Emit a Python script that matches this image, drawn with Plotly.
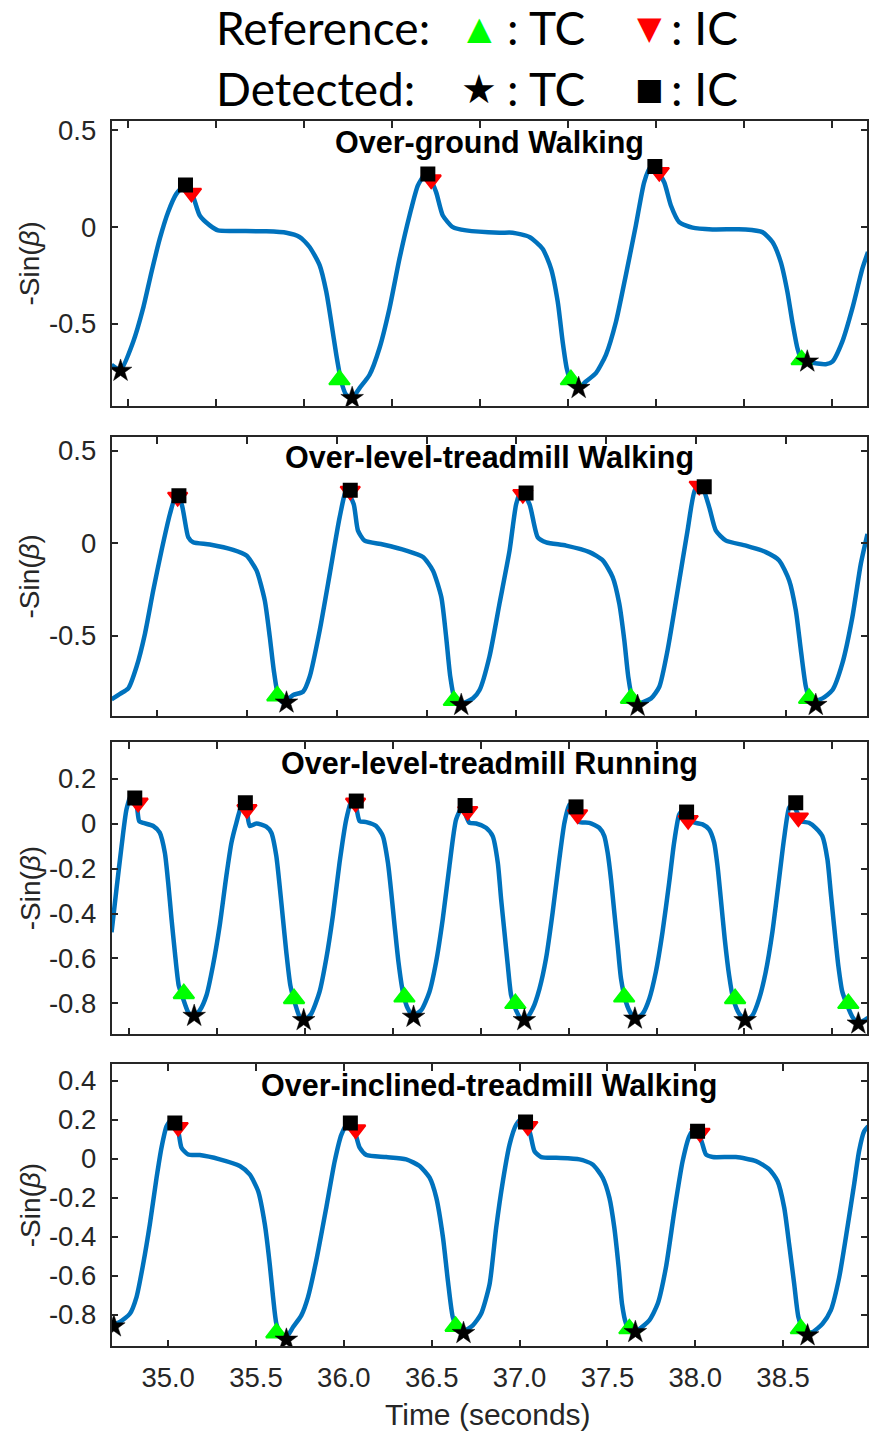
import plotly.graph_objects as go

# ---------------- data (time in s, value of -sin(beta)) ----------------
ground_curve = [
    (34.906, -0.713), (34.957, -0.739), (35.029, -0.593), (35.085, -0.421), (35.133, -0.232),
    (35.180, -0.060), (35.227, 0.077), (35.274, 0.172), (35.322, 0.215), (35.360, 0.181),
    (35.407, 0.060), (35.464, 0.009), (35.511, -0.017), (35.596, -0.020), (35.785, -0.022),
    (35.899, -0.029), (35.974, -0.051), (36.031, -0.103), (36.088, -0.197), (36.126, -0.335),
    (36.154, -0.490), (36.183, -0.661), (36.211, -0.799), (36.239, -0.868), (36.273, -0.885),
    (36.315, -0.833), (36.372, -0.764), (36.428, -0.627), (36.485, -0.421), (36.542, -0.163),
    (36.599, 0.060), (36.646, 0.215), (36.684, 0.270), (36.703, 0.275), (36.750, 0.181),
    (36.788, 0.060), (36.845, 0.000), (36.920, -0.017), (37.110, -0.029), (37.185, -0.029),
    (37.280, -0.051), (37.355, -0.112), (37.403, -0.215), (37.441, -0.386), (37.469, -0.593),
    (37.492, -0.730), (37.516, -0.799), (37.560, -0.833), (37.601, -0.799), (37.658, -0.756),
    (37.715, -0.661), (37.772, -0.490), (37.828, -0.249), (37.885, 0.009), (37.932, 0.232),
    (37.965, 0.305), (38.008, 0.284), (38.046, 0.232), (38.084, 0.112), (38.131, 0.026),
    (38.207, -0.003), (38.320, -0.012), (38.509, -0.012), (38.604, -0.026), (38.661, -0.077),
    (38.708, -0.180), (38.746, -0.335), (38.774, -0.490), (38.803, -0.627), (38.827, -0.687),
    (38.869, -0.699), (38.964, -0.710), (39.002, -0.696), (39.058, -0.593), (39.115, -0.421),
    (39.172, -0.215), (39.204, -0.129),
]
ground_ref_tc = [(36.201, -0.790), (37.516, -0.790), (38.827, -0.687)]
ground_ref_ic = [(35.360, 0.177), (36.722, 0.246), (38.018, 0.284)]
ground_det_tc = [(34.957, -0.744), (36.273, -0.885), (37.560, -0.833), (38.859, -0.696)]
ground_det_ic = [(35.326, 0.218), (36.703, 0.275), (37.993, 0.314)]

treadwalk_curve = [
    (34.746, -0.844), (34.793, -0.815), (34.839, -0.785), (34.885, -0.668), (34.932, -0.489),
    (34.978, -0.255), (35.024, -0.040), (35.071, 0.158), (35.104, 0.256), (35.136, 0.211),
    (35.173, 0.032), (35.200, 0.005), (35.293, -0.007), (35.423, -0.036), (35.497, -0.067),
    (35.553, -0.147), (35.599, -0.309), (35.627, -0.507), (35.649, -0.686), (35.673, -0.821),
    (35.701, -0.862), (35.757, -0.821), (35.812, -0.803), (35.849, -0.722), (35.905, -0.471),
    (35.961, -0.165), (36.016, 0.140), (36.053, 0.284), (36.094, 0.212), (36.118, 0.068),
    (36.155, 0.014), (36.257, -0.007), (36.387, -0.040), (36.480, -0.075), (36.535, -0.147),
    (36.582, -0.291), (36.609, -0.507), (36.632, -0.722), (36.656, -0.839), (36.693, -0.866),
    (36.758, -0.839), (36.795, -0.794), (36.850, -0.614), (36.906, -0.327), (36.962, -0.040),
    (36.999, 0.212), (37.027, 0.284), (37.073, 0.212), (37.119, 0.032), (37.166, 0.005),
    (37.277, -0.013), (37.407, -0.048), (37.481, -0.093), (37.536, -0.183), (37.573, -0.327),
    (37.601, -0.525), (37.623, -0.722), (37.644, -0.830), (37.675, -0.866), (37.750, -0.839),
    (37.796, -0.776), (37.842, -0.578), (37.898, -0.255), (37.953, 0.068), (37.996, 0.292),
    (38.031, 0.310), (38.074, 0.194), (38.111, 0.068), (38.167, 0.014), (38.278, -0.013),
    (38.389, -0.048), (38.463, -0.093), (38.519, -0.201), (38.556, -0.363), (38.584, -0.578),
    (38.612, -0.776), (38.639, -0.857), (38.704, -0.839), (38.760, -0.794), (38.815, -0.650),
    (38.871, -0.399), (38.918, -0.111), (38.955, 0.050),
]
treadwalk_ref_tc = [(35.669, -0.826), (36.652, -0.851), (37.638, -0.839), (38.630, -0.839)]
treadwalk_ref_ic = [(35.114, 0.250), (36.075, 0.283), (37.036, 0.265), (38.018, 0.310)]
treadwalk_det_tc = [(35.720, -0.862), (36.693, -0.875), (37.675, -0.880), (38.667, -0.875)]
treadwalk_det_ic = [(35.121, 0.257), (36.075, 0.287), (37.054, 0.271), (38.046, 0.305)]

treadrun_curve = [
    (34.900, -0.483), (34.928, -0.291), (34.957, -0.099), (34.985, 0.064), (35.013, 0.130),
    (35.042, 0.086), (35.057, 0.012), (35.080, 0.004), (35.137, -0.010), (35.174, -0.040),
    (35.203, -0.129), (35.222, -0.262), (35.241, -0.424), (35.260, -0.572), (35.282, -0.720),
    (35.307, -0.779), (35.335, -0.838), (35.364, -0.860), (35.402, -0.831), (35.440, -0.764),
    (35.477, -0.631), (35.515, -0.454), (35.553, -0.232), (35.582, -0.084), (35.610, 0.004),
    (35.644, 0.090), (35.667, 0.064), (35.686, -0.010), (35.724, 0.001), (35.780, -0.013),
    (35.809, -0.040), (35.837, -0.143), (35.856, -0.276), (35.875, -0.424), (35.894, -0.572),
    (35.917, -0.720), (35.941, -0.794), (35.970, -0.860), (35.998, -0.875), (36.036, -0.846),
    (36.083, -0.749), (36.121, -0.602), (36.159, -0.409), (36.197, -0.173), (36.235, 0.019),
    (36.269, 0.115), (36.292, 0.071), (36.311, 0.012), (36.349, 0.007), (36.405, -0.010),
    (36.443, -0.055), (36.472, -0.173), (36.491, -0.306), (36.510, -0.454), (36.532, -0.616),
    (36.557, -0.749), (36.585, -0.823), (36.614, -0.853), (36.661, -0.831), (36.708, -0.749),
    (36.746, -0.616), (36.784, -0.424), (36.822, -0.188), (36.860, 0.019), (36.898, 0.081),
    (36.917, 0.034), (36.936, 0.004), (36.974, 0.001), (37.030, -0.018), (37.068, -0.055),
    (37.097, -0.173), (37.116, -0.336), (37.135, -0.483), (37.154, -0.631), (37.173, -0.764),
    (37.201, -0.831), (37.230, -0.868), (37.258, -0.868), (37.296, -0.823), (37.334, -0.735),
    (37.371, -0.602), (37.409, -0.395), (37.447, -0.158), (37.476, 0.004), (37.504, 0.086),
    (37.542, 0.034), (37.561, 0.007), (37.618, 0.004), (37.674, -0.018), (37.703, -0.055),
    (37.722, -0.129), (37.741, -0.247), (37.760, -0.395), (37.779, -0.542), (37.798, -0.690),
    (37.826, -0.794), (37.855, -0.846), (37.883, -0.868), (37.921, -0.846), (37.959, -0.779),
    (37.996, -0.661), (38.034, -0.483), (38.072, -0.262), (38.100, -0.084), (38.129, 0.041),
    (38.151, 0.061), (38.176, 0.016), (38.204, 0.007), (38.262, -0.003), (38.299, -0.025),
    (38.328, -0.084), (38.347, -0.188), (38.366, -0.336), (38.388, -0.513), (38.413, -0.676),
    (38.436, -0.779), (38.470, -0.846), (38.508, -0.875), (38.546, -0.853), (38.584, -0.779),
    (38.621, -0.661), (38.659, -0.483), (38.697, -0.247), (38.725, -0.069), (38.754, 0.071),
    (38.773, 0.086), (38.801, 0.049), (38.820, 0.012), (38.867, 0.004), (38.905, -0.018),
    (38.943, -0.055), (38.972, -0.158), (38.991, -0.306), (39.010, -0.454), (39.034, -0.631),
    (39.057, -0.749), (39.085, -0.809), (39.114, -0.860), (39.142, -0.885), (39.171, -0.880),
    (39.203, -0.865),
]
treadrun_ref_tc = [(35.311, -0.757), (35.938, -0.779), (36.566, -0.772), (37.197, -0.801),
                   (37.816, -0.772), (38.447, -0.779), (39.091, -0.801)]
treadrun_ref_ic = [(35.051, 0.093), (35.670, 0.064), (36.288, 0.093), (36.926, 0.056),
                   (37.551, 0.041), (38.180, 0.016), (38.807, 0.027)]
treadrun_det_tc = [(35.370, -0.856), (35.993, -0.875), (36.618, -0.860), (37.248, -0.875),
                   (37.877, -0.868), (38.504, -0.875), (39.148, -0.890)]
treadrun_det_ic = [(35.032, 0.115), (35.661, 0.093), (36.292, 0.101), (36.911, 0.081),
                   (37.542, 0.075), (38.171, 0.052), (38.792, 0.093)]

incline_curve = [
    (34.678, -0.854), (34.725, -0.837), (34.782, -0.795), (34.820, -0.709), (34.858, -0.539),
    (34.896, -0.335), (34.934, -0.097), (34.962, 0.057), (34.991, 0.167), (35.019, 0.201),
    (35.057, 0.141), (35.076, 0.057), (35.114, 0.022), (35.180, 0.019), (35.294, -0.003),
    (35.408, -0.037), (35.464, -0.080), (35.512, -0.165), (35.550, -0.335), (35.578, -0.539),
    (35.597, -0.709), (35.616, -0.846), (35.644, -0.905), (35.673, -0.914), (35.711, -0.863),
    (35.758, -0.803), (35.796, -0.709), (35.843, -0.522), (35.900, -0.250), (35.948, -0.012),
    (35.986, 0.124), (36.023, 0.184), (36.061, 0.141), (36.090, 0.057), (36.128, 0.019),
    (36.241, 0.009), (36.355, -0.003), (36.431, -0.037), (36.488, -0.097), (36.526, -0.199),
    (36.564, -0.403), (36.592, -0.625), (36.620, -0.812), (36.649, -0.871), (36.687, -0.880),
    (36.734, -0.854), (36.781, -0.795), (36.829, -0.645), (36.867, -0.352), (36.905, -0.114),
    (36.943, 0.073), (36.981, 0.175), (37.009, 0.201), (37.056, 0.141), (37.085, 0.039),
    (37.123, 0.009), (37.208, 0.005), (37.341, -0.003), (37.416, -0.029), (37.473, -0.097),
    (37.511, -0.199), (37.539, -0.352), (37.564, -0.557), (37.583, -0.744), (37.606, -0.846),
    (37.634, -0.889), (37.682, -0.872), (37.738, -0.829), (37.786, -0.744), (37.833, -0.557),
    (37.881, -0.267), (37.928, -0.012), (37.966, 0.116), (37.994, 0.150), (38.032, 0.099),
    (38.061, 0.022), (38.099, 0.009), (38.231, 0.009), (38.345, -0.012), (38.421, -0.054),
    (38.468, -0.114), (38.506, -0.250), (38.534, -0.437), (38.563, -0.642), (38.587, -0.812),
    (38.620, -0.889), (38.667, -0.889), (38.724, -0.846), (38.771, -0.778), (38.819, -0.608),
    (38.866, -0.352), (38.904, -0.131), (38.932, 0.039), (38.961, 0.141), (38.984, 0.167),
]
incline_ref_tc = [(35.616, -0.893), (36.636, -0.860), (37.625, -0.872), (38.601, -0.872)]
incline_ref_ic = [(35.057, 0.162), (36.067, 0.150), (37.047, 0.167), (38.027, 0.133)]
incline_det_tc = [(34.691, -0.860), (35.673, -0.928), (36.681, -0.894), (37.659, -0.889), (38.639, -0.906)]
incline_det_ic = [(35.038, 0.184), (36.037, 0.184), (37.034, 0.189), (38.013, 0.141)]

panel_titles = ["Over-ground Walking", "Over-level-treadmill Walking",
                "Over-level-treadmill Running", "Over-inclined-treadmill Walking"]

x_ranges = [(34.906, 39.200), (34.746, 38.954), (34.900, 39.199), (34.678, 38.979)]
y_ranges = [(-0.926, 0.548), (-0.936, 0.575), (-0.938, 0.363), (-0.962, 0.485)]

x_tickvals = [35.0, 35.5, 36.0, 36.5, 37.0, 37.5, 38.0, 38.5, 39.0]
x_ticktext = ["35.0", "35.5", "36.0", "36.5", "37.0", "37.5", "38.0", "38.5", "39.0"]

y_tickvals_walk = [-0.5, 0, 0.5]
y_ticktext_walk = ["-0.5", "0", "0.5"]
y_tickvals_run = [-0.8, -0.6, -0.4, -0.2, 0, 0.2]
y_ticktext_run = ["-0.8", "-0.6", "-0.4", "-0.2", "0", "0.2"]
y_tickvals_incl = [-0.8, -0.6, -0.4, -0.2, 0, 0.2, 0.4]
y_ticktext_incl = ["-0.8", "-0.6", "-0.4", "-0.2", "0", "0.2", "0.4"]

# ---------------- layout geometry (pixels) ----------------
W, H = 869, 1432
PLOT_L, PLOT_R = 111.7, 868.3
panel_px = [(115.7, 401.7), (432.7, 713.3), (739.3, 1032.7), (1062.7, 1346.0)]

LINE_BLUE = "#0072BD"
AX_COL = "#262626"
TICK_FONT = dict(family="Liberation Sans, Arial, sans-serif", size=27.5, color=AX_COL)

panels = [
    (ground_curve, ground_ref_tc, ground_ref_ic, ground_det_tc, ground_det_ic, y_tickvals_walk, y_ticktext_walk),
    (treadwalk_curve, treadwalk_ref_tc, treadwalk_ref_ic, treadwalk_det_tc, treadwalk_det_ic, y_tickvals_walk, y_ticktext_walk),
    (treadrun_curve, treadrun_ref_tc, treadrun_ref_ic, treadrun_det_tc, treadrun_det_ic, y_tickvals_run, y_ticktext_run),
    (incline_curve, incline_ref_tc, incline_ref_ic, incline_det_tc, incline_det_ic, y_tickvals_incl, y_ticktext_incl),
]


def xs(pts):
    return [p[0] for p in pts]


def ys(pts):
    return [p[1] for p in pts]


fig = go.Figure()
annotations = []
layout_axes = {}

for i, (curve, rtc, ric, dtc, dic, ytv, ytt) in enumerate(panels):
    n = "" if i == 0 else str(i + 1)
    xref, yref = "x" + n, "y" + n
    fig.add_trace(go.Scatter(x=xs(curve), y=ys(curve), mode="lines", xaxis=xref, yaxis=yref,
                             line=dict(color=LINE_BLUE, width=4.5, shape="spline", smoothing=0.6),
                             showlegend=False, hoverinfo="skip"))
    fig.add_trace(go.Scatter(x=xs(rtc), y=ys(rtc), mode="markers", xaxis=xref, yaxis=yref,
                             marker=dict(symbol="triangle-up", size=18, color="#00FF00",
                                         line=dict(width=2, color="#00FF00")),
                             showlegend=False))
    fig.add_trace(go.Scatter(x=xs(ric), y=ys(ric), mode="markers", xaxis=xref, yaxis=yref,
                             marker=dict(symbol="triangle-down", size=17, color="#FF0000",
                                         line=dict(width=2, color="#FF0000")),
                             showlegend=False))
    fig.add_trace(go.Scatter(x=xs(dtc), y=ys(dtc), mode="markers", xaxis=xref, yaxis=yref,
                             marker=dict(symbol="star", size=17, color="#000000",
                                         line=dict(width=0.5, color="#000000")),
                             showlegend=False))
    fig.add_trace(go.Scatter(x=xs(dic), y=ys(dic), mode="markers", xaxis=xref, yaxis=yref,
                             marker=dict(symbol="square", size=15, color="#000000"),
                             showlegend=False))

    top, bot = panel_px[i]
    ydom = [1 - bot / H, 1 - top / H]
    last = i == len(panels) - 1
    layout_axes["xaxis" + n] = dict(
        domain=[PLOT_L / W, PLOT_R / W], range=list(x_ranges[i]), anchor=yref,
        tickvals=x_tickvals, ticktext=x_ticktext, showticklabels=last,
        ticks="inside", ticklen=7, tickwidth=1.5, tickcolor=AX_COL,
        showline=True, linecolor=AX_COL, linewidth=1.5, mirror="ticks",
        showgrid=False, zeroline=False, tickfont=TICK_FONT, ticklabelstandoff=6,
    )
    layout_axes["yaxis" + n] = dict(
        domain=ydom, range=list(y_ranges[i]), anchor=xref,
        tickvals=ytv, ticktext=ytt,
        ticks="inside", ticklen=7, tickwidth=1.5, tickcolor=AX_COL,
        showline=True, linecolor=AX_COL, linewidth=1.5, mirror="ticks",
        showgrid=False, zeroline=False, tickfont=TICK_FONT, ticklabelstandoff=8,
    )
    # panel title
    annotations.append(dict(text="<b>" + panel_titles[i] + "</b>", xref="paper", yref="paper",
                            x=(PLOT_L + PLOT_R) / 2 / W, y=1 - (top + 21) / H,
                            xanchor="center", yanchor="middle", showarrow=False,
                            font=dict(family="Liberation Sans, Arial, sans-serif", size=30.5, color="#000000")))
    # y-axis title
    annotations.append(dict(text="-Sin(<i>β</i>)", xref="paper", yref="paper",
                            x=30 / W, y=1 - (top + bot) / 2 / H, textangle=-90,
                            xanchor="center", yanchor="middle", showarrow=False,
                            font=dict(family="Liberation Sans, Arial, sans-serif", size=28, color=AX_COL)))

# x-axis title
annotations.append(dict(text="Time (seconds)", xref="paper", yref="paper",
                        x=489 / W, y=1 - 1414 / H, xanchor="center", yanchor="middle", showarrow=False,
                        font=dict(family="Liberation Sans, Arial, sans-serif", size=30, color=AX_COL)))

# legend header built from text pieces
LEG_FONT = dict(family="Lato, Open Sans, sans-serif", size=46, color="#000000")
GLYPH = "DejaVu Sans"
legend_rows = [
    (22, "Reference:", "▲", "#00FF00", 32, "▼", "#FF0000", 32),
    (83, "Detected:", "★", "#000000", 40, "■", "#000000", 30),
]
for yc, label, g1, c1, s1, g2, c2, s2 in legend_rows:
    yy = 1 - yc / H
    annotations.append(dict(text=label, xref="paper", yref="paper", x=214 / W, y=yy,
                            xanchor="left", yanchor="middle", showarrow=False, font=LEG_FONT))
    annotations.append(dict(text=g1, xref="paper", yref="paper", x=480 / W, y=yy,
                            xanchor="center", yanchor="middle", showarrow=False,
                            font=dict(family=GLYPH, size=s1, color=c1)))
    annotations.append(dict(text=": TC", xref="paper", yref="paper", x=506 / W, y=yy,
                            xanchor="left", yanchor="middle", showarrow=False, font=LEG_FONT))
    annotations.append(dict(text=g2, xref="paper", yref="paper", x=650 / W, y=yy,
                            xanchor="center", yanchor="middle", showarrow=False,
                            font=dict(family=GLYPH, size=s2, color=c2)))
    annotations.append(dict(text=": IC", xref="paper", yref="paper", x=670 / W, y=yy,
                            xanchor="left", yanchor="middle", showarrow=False, font=LEG_FONT))

fig.update_layout(
    width=W, height=H, margin=dict(l=0, r=0, t=0, b=0),
    paper_bgcolor="white", plot_bgcolor="white",
    annotations=annotations, showlegend=False,
    **layout_axes,
)

fig.write_html("out.html")
